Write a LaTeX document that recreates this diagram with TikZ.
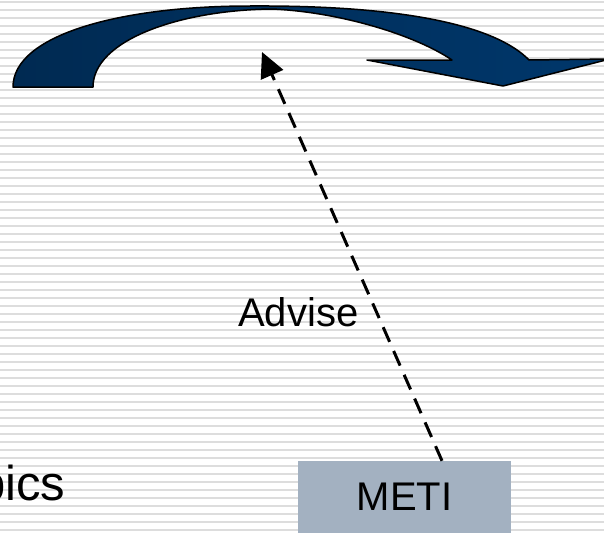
\documentclass[tikz,border=0pt]{standalone}
\usepackage{fontspec}
\setmainfont{Liberation Sans}
\usetikzlibrary{arrows.meta}
\definecolor{stripegray}{HTML}{DDDDDD}
\definecolor{navyleft}{HTML}{002A52}
\definecolor{navyright}{HTML}{00376B}
\definecolor{metiblue}{HTML}{A3B1C1}
\begin{document}
\begin{tikzpicture}[
  x=1pt, y=-1pt,
  stripe/.style={stripegray, line width=2pt},
  bigtext/.style={font=\fontsize{40}{48}\selectfont, inner sep=0pt},
  agency/.style={bigtext, fill=metiblue, minimum width=213pt, minimum height=72pt},
  advice/.style={-{Triangle[length=25pt,width=24pt]}, line width=3pt, dash pattern=on 16pt off 10pt}
]
\useasboundingbox (0,0) rectangle (604,533);

% Background stripes
\foreach \y in {2,10,...,530}
  \draw[stripe] (0,\y) -- (604,\y);

% Curved arrow on top
\shadedraw[left color=navyleft, right color=navyright, draw=black, line width=1.5pt, line join=round]
  (13,87) -- (93,87)
  .. controls (93,40) and (180,10) .. (272,9)
  .. controls (340,12) and (415,35) .. (452,60)
  -- (367,60) -- (503,86) -- (610,59) -- (529,60)
  .. controls (500,30) and (420,5) .. (250,6)
  .. controls (120,6) and (13,35) .. (13,87) -- cycle;

% Box and texts
\node[agency] (meti) at (404.5,497) {METI};
\coordinate (target) at (262,52);
\node[bigtext, anchor=base west] (advise) at (238,326) {Advise};
\node[font=\fontsize{49}{58}\selectfont, inner sep=0pt, anchor=base west] (topics) at (-22,500) {pics};

% Dashed arrow
\draw[advice] ([xshift=37.5pt]meti.north) -- (target);

\end{tikzpicture}
\end{document}
